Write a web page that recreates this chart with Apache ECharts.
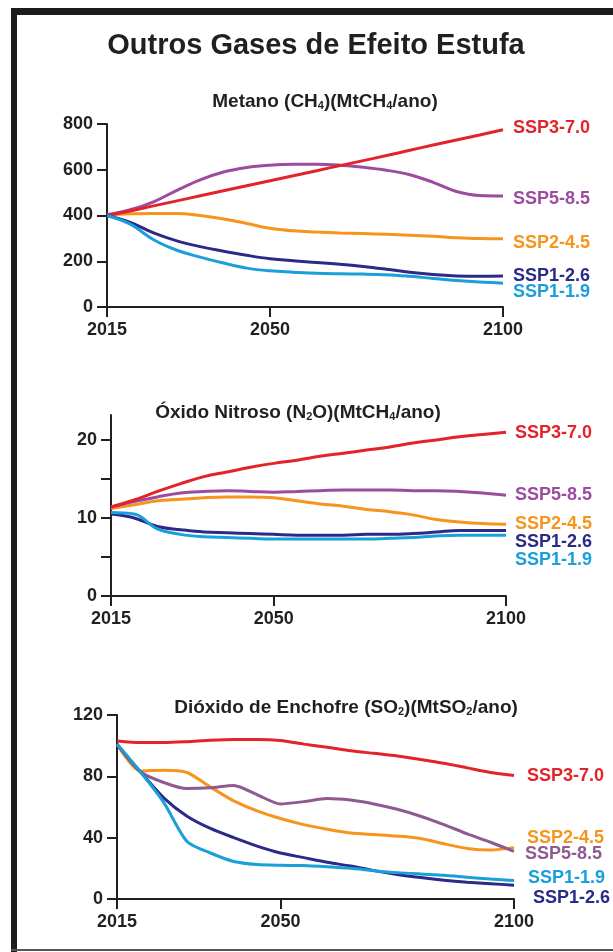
<!DOCTYPE html>
<html lang="pt">
<head>
    <meta charset="utf-8">
    <title>Outros Gases de Efeito Estufa</title>
    <script src="https://cdn.jsdelivr.net/npm/echarts@6.0.0/dist/echarts.min.js"></script>
    <style>
        body { margin: 0; background: #fff; }
        #chart { width: 613px; height: 952px; }
    </style>
</head>
<body>
<div id="chart"></div>

<script type="text/javascript">
    var chart = echarts.init(document.getElementById('chart'));

    // anos (a cada 5)
    var years = [2015, 2020, 2025, 2030, 2035, 2040, 2045, 2050, 2055, 2060, 2065, 2070, 2075, 2080, 2085, 2090, 2095, 2100];
    var xTicks = [2015, 2050, 2100];

    // Metano (MtCH4/ano)
    var ch4_ssp119 = [400, 362, 294, 248, 218, 192, 170, 158, 152, 147, 145, 144, 141, 134, 125, 116, 109, 104];
    var ch4_ssp126 = [400, 370, 324, 289, 264, 244, 226, 211, 202, 195, 187, 177, 165, 152, 142, 136, 134, 135];
    var ch4_ssp245 = [403, 408, 409, 409, 400, 385, 365, 344, 333, 328, 324, 321, 318, 314, 309, 303, 299, 298];
    var ch4_ssp370 = [400, 420, 442, 464, 486, 508, 530, 552, 574, 596, 618, 640, 662, 685, 708, 730, 752, 775];
    var ch4_ssp585 = [403, 425, 460, 510, 556, 590, 610, 620, 624, 624, 620, 611, 598, 578, 545, 505, 487, 485];

    // Oxido nitroso
    var n2o_ssp119 = [10.7, 10.5, 8.6, 7.9, 7.6, 7.5, 7.4, 7.3, 7.3, 7.3, 7.3, 7.3, 7.4, 7.5, 7.7, 7.8, 7.8, 7.8];
    var n2o_ssp126 = [10.5, 10.0, 8.9, 8.5, 8.2, 8.1, 8.0, 7.9, 7.8, 7.8, 7.8, 7.9, 7.9, 8.0, 8.2, 8.4, 8.4, 8.4];
    var n2o_ssp245 = [11.2, 11.7, 12.2, 12.4, 12.6, 12.7, 12.7, 12.6, 12.2, 11.8, 11.5, 11.1, 10.8, 10.4, 9.8, 9.5, 9.3, 9.2];
    var n2o_ssp370 = [11.4, 12.3, 13.4, 14.4, 15.3, 15.9, 16.5, 17.0, 17.4, 17.9, 18.3, 18.7, 19.1, 19.6, 20.0, 20.4, 20.7, 21.0];
    var n2o_ssp585 = [11.4, 12.1, 12.7, 13.2, 13.4, 13.5, 13.4, 13.3, 13.4, 13.5, 13.6, 13.6, 13.6, 13.5, 13.5, 13.4, 13.2, 12.9];

    // Dioxido de enxofre
    var so2_ssp119 = [101, 83, 63, 37.5, 30, 24.5, 22.5, 22, 21.8, 21, 20, 18.5, 17.2, 16.3, 15.5, 14.2, 13, 12];
    var so2_ssp126 = [101, 83, 66, 54, 46, 40, 34.5, 30, 27, 24, 21.5, 18.5, 16, 14, 12.3, 11, 10, 9];
    var so2_ssp245 = [101, 83.5, 84, 82.5, 73, 64, 57.5, 52.5, 48.5, 45.5, 43, 42, 41, 39.5, 36, 33, 32, 33.5];
    var so2_ssp370 = [103, 102, 102, 102.6, 103.5, 104, 104, 103.3, 101, 99, 96.7, 95, 93.3, 91, 88.5, 85.5, 82.5, 80.5];
    var so2_ssp585 = [101, 83, 76, 72, 72.5, 74, 68, 62, 63.5, 65.5, 64.5, 62, 58.5, 54, 48.5, 42.5, 37, 31];

    var FONT = "'Liberation Sans', Arial, sans-serif";
    var INK = '#231f20';
    var RED = '#e2232a', PURPLE = '#9d4b9f', ORANGE = '#f7941d', NAVY = '#2b2a86', CYAN = '#1b9fdb';

    function line(idx, name, data, color, off, smooth) {
        return {
            type: 'line',
            name: name,
            xAxisIndex: idx,
            yAxisIndex: idx,
            data: years.map(function (y, i) { return [y, data[i]]; }),
            smooth: smooth,
            symbol: 'none',
            silent: true,
            lineStyle: { color: color, width: 3 },
            itemStyle: { color: color },
            endLabel: {
                show: true,
                formatter: '{a}',
                color: color,
                fontFamily: FONT,
                fontSize: 18,
                fontWeight: 'bold',
                distance: 0,
                offset: off
            }
        };
    }

    function xAxis(idx) {
        return {
            gridIndex: idx,
            type: 'value',
            min: 2015,
            max: 2100,
            axisLine: { show: true, lineStyle: { color: INK, width: 2 } },
            axisTick: { show: true, customValues: xTicks, length: 10, lineStyle: { color: INK, width: 2 } },
            axisLabel: {
                customValues: xTicks, margin: 14, color: INK, fontSize: 18, fontWeight: 'bold', fontFamily: FONT,
                formatter: function (v) { return String(v); }
            },
            splitLine: { show: false }
        };
    }

    function yAxis(idx, max, ticks, labels) {
        return {
            gridIndex: idx,
            type: 'value',
            min: 0,
            max: max,
            axisLine: { show: true, lineStyle: { color: INK, width: 2 } },
            axisTick: { show: true, customValues: ticks, length: 10, lineStyle: { color: INK, width: 2 } },
            axisLabel: { customValues: labels, margin: 14, color: INK, fontSize: 18, fontWeight: 'bold', fontFamily: FONT },
            splitLine: { show: false }
        };
    }

    function heading(text, x, y, size) {
        return {
            type: 'text',
            x: x,
            y: y,
            style: {
                text: text,
                align: 'center',
                verticalAlign: 'middle',
                fill: INK,
                fontFamily: FONT,
                fontSize: size,
                fontWeight: 'bold',
                rich: {
                    s: { fill: INK, fontFamily: FONT, fontSize: 11, fontWeight: 'bold', verticalAlign: 'bottom', padding: [7, 0, 0, 0] }
                }
            }
        };
    }

    chart.setOption({
        animation: false,
        backgroundColor: '#ffffff',
        grid: [
            { left: 107, top: 124, width: 396, height: 183 },
            { left: 111, top: 415, width: 395, height: 181 },
            { left: 117, top: 715, width: 397, height: 184 }
        ],
        xAxis: [xAxis(0), xAxis(1), xAxis(2)],
        yAxis: [
            yAxis(0, 800, [0, 200, 400, 600, 800], [0, 200, 400, 600, 800]),
            yAxis(1, 23.2, [0, 5, 10, 15, 20], [0, 10, 20]),
            yAxis(2, 120, [0, 40, 80, 120], [0, 40, 80, 120])
        ],
        graphic: [
            { type: 'rect', shape: { x: 11, y: 8, width: 6, height: 944 }, style: { fill: '#1c1c1c' } },
            { type: 'rect', shape: { x: 11, y: 8, width: 602, height: 7 }, style: { fill: '#1c1c1c' } },
            { type: 'rect', shape: { x: 11, y: 949, width: 602, height: 2 }, style: { fill: '#555' } },
            heading('Outros Gases de Efeito Estufa', 316, 46, 29),
            heading('Metano (CH{s|4})(MtCH{s|4}/ano)', 325, 102, 19),
            heading('Óxido Nitroso (N{s|2}O)(MtCH{s|4}/ano)', 298, 413, 19),
            heading('Dióxido de Enchofre (SO{s|2})(MtSO{s|2}/ano)', 346, 708, 19)
        ],
        series: [
            line(0, 'SSP2-4.5', ch4_ssp245, ORANGE, [10, 4], 0.4),
            line(0, 'SSP5-8.5', ch4_ssp585, PURPLE, [10, 3], 0.4),
            line(0, 'SSP3-7.0', ch4_ssp370, RED, [10, -2], 0.4),
            line(0, 'SSP1-2.6', ch4_ssp126, NAVY, [10, 0], 0.4),
            line(0, 'SSP1-1.9', ch4_ssp119, CYAN, [10, 9], 0.4),

            line(1, 'SSP2-4.5', n2o_ssp245, ORANGE, [9, 0], 0.4),
            line(1, 'SSP5-8.5', n2o_ssp585, PURPLE, [9, 0], 0.4),
            line(1, 'SSP3-7.0', n2o_ssp370, RED, [9, 1], 0.4),
            line(1, 'SSP1-2.6', n2o_ssp126, NAVY, [9, 12], 0.4),
            line(1, 'SSP1-1.9', n2o_ssp119, CYAN, [9, 25], 0.4),

            line(2, 'SSP2-4.5', so2_ssp245, ORANGE, [13, -10], 0.25),
            line(2, 'SSP5-8.5', so2_ssp585, '#8e5a90', [11, 3], 0.25),
            line(2, 'SSP3-7.0', so2_ssp370, RED, [13, 0], 0.25),
            line(2, 'SSP1-2.6', so2_ssp126, NAVY, [19, 13], 0.25),
            line(2, 'SSP1-1.9', so2_ssp119, CYAN, [14, -3], 0.25)
        ]
    });
</script>
</body>
</html>
